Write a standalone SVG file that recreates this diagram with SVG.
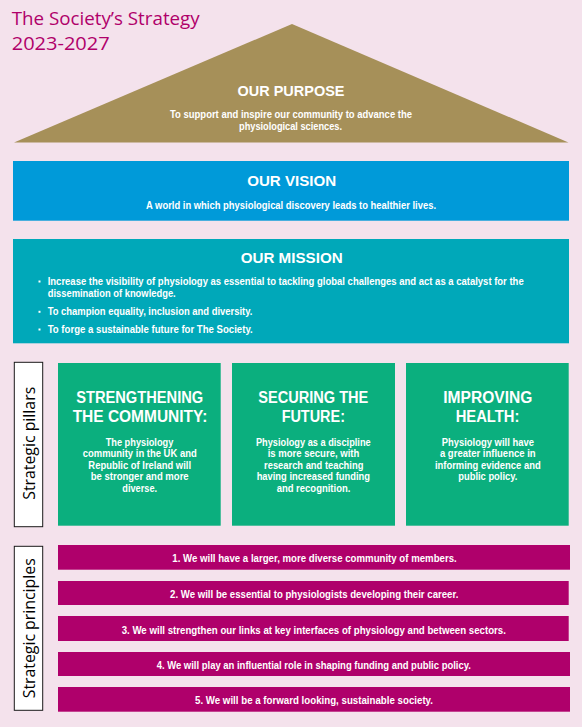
<svg xmlns="http://www.w3.org/2000/svg" width="582" height="727" viewBox="0 0 582 727">
<style>
  .w { fill: #ffffff; font-family: "Liberation Sans", Arial, sans-serif; font-weight: 700; }
  .h { font-size: 15.5px; text-anchor: middle; }
  .ph { font-size: 16px; text-anchor: middle; }
  .b { font-size: 10px; }
  .bc { font-size: 10px; text-anchor: middle; }
  .pr { font-size: 10.5px; text-anchor: middle; }
  .lbl { fill: #000000; font-family: "Open Sans", "Liberation Sans", sans-serif; font-size: 16px; text-anchor: middle; }
  .lblbox { fill: #ffffff; stroke: #1a1a1a; stroke-width: 1; }
  .pillar { fill: #0BAF7E; }
  .bar { fill: #AF006B; }
  .title { fill: #B0006A; font-family: "Open Sans", "Liberation Sans", sans-serif; font-size: 18px; }
</style>
<rect x="0" y="0" width="582" height="727" fill="#F4E2EC"/>

<g id="title">
  <text class="title" x="11.7" y="25" textLength="188" lengthAdjust="spacingAndGlyphs">The Society’s Strategy</text>
  <text class="title" x="11.7" y="50" textLength="98" lengthAdjust="spacingAndGlyphs">2023-2027</text>
</g>

<g id="purpose">
  <polygon points="292,24 568.5,142.5 14,142.5" fill="#A69059"/>
  <text class="w h" x="291" y="95.7" textLength="107" lengthAdjust="spacingAndGlyphs">OUR PURPOSE</text>
  <text class="w bc" x="291" y="117.8" textLength="242" lengthAdjust="spacingAndGlyphs">To support and inspire our community to advance the</text>
  <text class="w bc" x="290.5" y="130.3" textLength="103" lengthAdjust="spacingAndGlyphs">physiological sciences.</text>
</g>

<g id="vision">
  <rect x="13" y="161" width="556" height="59.7" fill="#009AD9"/>
  <text class="w h" x="291.7" y="185.7" textLength="89" lengthAdjust="spacingAndGlyphs">OUR VISION</text>
  <text class="w bc" x="291" y="208.5" textLength="290" lengthAdjust="spacingAndGlyphs">A world in which physiological discovery leads to healthier lives.</text>
</g>

<g id="mission">
  <rect x="13" y="239" width="556" height="104.3" fill="#00A8B9"/>
  <text class="w h" x="291.7" y="262.7" textLength="102" lengthAdjust="spacingAndGlyphs">OUR MISSION</text>
  <rect x="38.5" y="280.5" width="2" height="2" fill="#ffffff"/>
  <text class="w b" x="47.7" y="285" textLength="476" lengthAdjust="spacingAndGlyphs">Increase the visibility of physiology as essential to tackling global challenges and act as a catalyst for the</text>
  <text class="w b" x="47.7" y="297" textLength="128" lengthAdjust="spacingAndGlyphs">dissemination of knowledge.</text>
  <rect x="38.5" y="310.8" width="2" height="2" fill="#ffffff"/>
  <text class="w b" x="47.7" y="315.3" textLength="204.7" lengthAdjust="spacingAndGlyphs">To champion equality, inclusion and diversity.</text>
  <rect x="38.5" y="328.5" width="2" height="2" fill="#ffffff"/>
  <text class="w b" x="47.7" y="333" textLength="205" lengthAdjust="spacingAndGlyphs">To forge a sustainable future for The Society.</text>
</g>

<g id="label-pillars">
  <rect class="lblbox" x="14.3" y="362.3" width="28.4" height="164.4"/>
  <text class="lbl" transform="translate(35,443.3) rotate(-90)" textLength="113" lengthAdjust="spacingAndGlyphs">Strategic pillars</text>
</g>

<g id="pillar-community">
  <rect class="pillar" x="58" y="363" width="162.7" height="162.7"/>
  <text class="w ph" x="139.7" y="403.3" textLength="127" lengthAdjust="spacingAndGlyphs">STRENGTHENING</text>
  <text class="w ph" x="140" y="421.7" textLength="134.7" lengthAdjust="spacingAndGlyphs">THE COMMUNITY:</text>
  <text class="w bc" x="139.5" y="445.5" textLength="67.7" lengthAdjust="spacingAndGlyphs">The physiology</text>
  <text class="w bc" x="139.7" y="457" textLength="114" lengthAdjust="spacingAndGlyphs">community in the UK and</text>
  <text class="w bc" x="139.7" y="468.5" textLength="102.7" lengthAdjust="spacingAndGlyphs">Republic of Ireland will</text>
  <text class="w bc" x="139.7" y="480" textLength="98" lengthAdjust="spacingAndGlyphs">be stronger and more</text>
  <text class="w bc" x="139.7" y="491.5" textLength="34.7" lengthAdjust="spacingAndGlyphs">diverse.</text>
</g>

<g id="pillar-future">
  <rect class="pillar" x="232" y="363" width="163" height="162.7"/>
  <text class="w ph" x="313.3" y="403.3" textLength="110" lengthAdjust="spacingAndGlyphs">SECURING THE</text>
  <text class="w ph" x="313.3" y="421.7" textLength="63.3" lengthAdjust="spacingAndGlyphs">FUTURE:</text>
  <text class="w bc" x="313.3" y="445.5" textLength="114.7" lengthAdjust="spacingAndGlyphs">Physiology as a discipline</text>
  <text class="w bc" x="313.5" y="457" textLength="91.7" lengthAdjust="spacingAndGlyphs">is more secure, with</text>
  <text class="w bc" x="313.7" y="468.5" textLength="99.3" lengthAdjust="spacingAndGlyphs">research and teaching</text>
  <text class="w bc" x="313.3" y="480" textLength="113.3" lengthAdjust="spacingAndGlyphs">having increased funding</text>
  <text class="w bc" x="313.5" y="491.5" textLength="73.7" lengthAdjust="spacingAndGlyphs">and recognition.</text>
</g>

<g id="pillar-health">
  <rect class="pillar" x="406" y="363" width="162.7" height="162.7"/>
  <text class="w ph" x="487.8" y="403.3" textLength="89" lengthAdjust="spacingAndGlyphs">IMPROVING</text>
  <text class="w ph" x="487.5" y="421.7" textLength="63.7" lengthAdjust="spacingAndGlyphs">HEALTH:</text>
  <text class="w bc" x="487.8" y="445.5" textLength="92.3" lengthAdjust="spacingAndGlyphs">Physiology will have</text>
  <text class="w bc" x="487.8" y="457" textLength="95.7" lengthAdjust="spacingAndGlyphs">a greater influence in</text>
  <text class="w bc" x="487.8" y="468.5" textLength="105.7" lengthAdjust="spacingAndGlyphs">informing evidence and</text>
  <text class="w bc" x="487.8" y="480" textLength="59" lengthAdjust="spacingAndGlyphs">public policy.</text>
</g>

<g id="label-principles">
  <rect class="lblbox" x="14.3" y="546.3" width="28.4" height="164"/>
  <text class="lbl" transform="translate(35,628.3) rotate(-90)" textLength="140" lengthAdjust="spacingAndGlyphs">Strategic principles</text>
</g>

<g id="principle-1">
  <rect class="bar" x="58" y="545" width="512" height="24.7"/>
  <text class="w pr" x="314.5" y="562.3" textLength="284.4" lengthAdjust="spacingAndGlyphs">1.  We will have a larger, more diverse community of members.</text>
</g>
<g id="principle-2">
  <rect class="bar" x="58" y="581" width="510.7" height="24"/>
  <text class="w pr" x="314.2" y="598" textLength="288.3" lengthAdjust="spacingAndGlyphs">2.  We will be essential to physiologists developing their career.</text>
</g>
<g id="principle-3">
  <rect class="bar" x="58" y="616" width="510.7" height="25"/>
  <text class="w pr" x="313.8" y="633.5" textLength="384.3" lengthAdjust="spacingAndGlyphs">3.  We will strengthen our links at key interfaces of physiology and between sectors.</text>
</g>
<g id="principle-4">
  <rect class="bar" x="58" y="652" width="512" height="24"/>
  <text class="w pr" x="313.8" y="668.8" textLength="314.3" lengthAdjust="spacingAndGlyphs">4.  We will play an influential role in shaping funding and public policy.</text>
</g>
<g id="principle-5">
  <rect class="bar" x="58" y="687" width="512" height="24.7"/>
  <text class="w pr" x="314" y="704" textLength="238" lengthAdjust="spacingAndGlyphs">5.  We will be a forward looking, sustainable society.</text>
</g>
</svg>
